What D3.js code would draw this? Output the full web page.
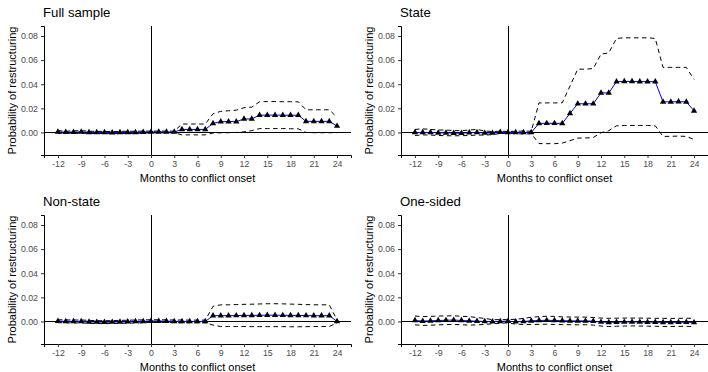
<!DOCTYPE html>
<html>
<head>
<meta charset="utf-8">
<script src="https://cdn.jsdelivr.net/npm/d3@7"></script>
<style>
  body { margin: 0; background: #fff; }
  svg { display: block; font-family: "Liberation Sans", Arial, sans-serif; }
</style>
</head>
<body>
<svg id="chart" width="708" height="372"></svg>
<script>
const months = [-12, -11, -10, -9, -8, -7, -6, -5, -4, -3, -2, -1, 0, 1, 2, 3, 4, 5, 6, 7, 8,
  9, 10, 11, 12, 13, 14, 15, 16, 17, 18, 19, 20, 21, 22, 23, 24];
const xTicks = [-12, -9, -6, -3, 0, 3, 6, 9, 12, 15, 18, 21, 24];
const yTicks = [0, 0.02, 0.04, 0.06, 0.08];
const panelTitles = ["Full sample", "State", "Non-state", "One-sided"];

const fullEst = [0.0004, 0.0002, 0.0003, 0.0004, 0.0001, 0.0, 0.0, -0.0001, 0.0, 0.0001, 0.0001, 0.0003,
  0.0004, 0.0004, 0.0004, 0.0004, 0.0025, 0.0025, 0.0025, 0.0025, 0.0075, 0.009, 0.009, 0.009,
  0.0112, 0.0112, 0.0143, 0.0144, 0.0144, 0.0143, 0.0143, 0.0143, 0.0092, 0.0092, 0.0092, 0.0092, 0.0053];
const fullHi = [0.0015, 0.001, 0.0013, 0.0015, 0.001, 0.0009, 0.0009, 0.0008, 0.0009, 0.001, 0.001, 0.0011,
  0.0011, 0.0011, 0.0011, 0.0011, 0.007, 0.007, 0.007, 0.007, 0.0155, 0.0175, 0.018, 0.0185,
  0.0205, 0.021, 0.0255, 0.0256, 0.0256, 0.0255, 0.0255, 0.0254, 0.0188, 0.0188, 0.0188, 0.0188, 0.0125];
const fullLo = [-0.0007, -0.0006, -0.0007, -0.0007, -0.0008, -0.0009, -0.0009, -0.001, -0.0009, -0.0008, -0.0008, -0.0005,
  -0.0003, -0.0003, -0.0003, -0.0003, -0.002, -0.002, -0.002, -0.002, -0.0005, -0.0003, -0.0002, 0.0,
  0.0005, 0.0015, 0.0032, 0.0032, 0.0032, 0.0032, 0.0031, 0.003, 0.0, -0.0002, -0.0002, -0.0002, -0.0002];

const stateEst = [0.0, 0.0, 0.0, -0.0003, -0.0003, -0.0006, -0.0006, -0.0002, 0.0, -0.0005, -0.0005, 0.0002,
  0.0, 0.0, 0.0, 0.0, 0.0075, 0.0076, 0.0076, 0.0075, 0.0158, 0.0238, 0.0238, 0.0238,
  0.0328, 0.0328, 0.0421, 0.0423, 0.0423, 0.0422, 0.0422, 0.0421, 0.0254, 0.0254, 0.0255, 0.0254, 0.0179];
const stateHi = [0.0025, 0.003, 0.0025, 0.002, 0.002, 0.0015, 0.0015, 0.002, 0.0025, 0.0012, 0.0008, 0.001,
  0.0008, 0.001, 0.0012, 0.001, 0.0245, 0.0245, 0.0245, 0.0246, 0.0385, 0.0525, 0.0525, 0.053,
  0.065, 0.066, 0.078, 0.0785, 0.0785, 0.0785, 0.0785, 0.078, 0.054, 0.054, 0.054, 0.054, 0.044];
const stateLo = [-0.0025, -0.002, -0.0022, -0.0025, -0.0027, -0.0028, -0.0027, -0.0025, -0.0022, -0.0022, -0.0018, -0.0008,
  -0.0008, -0.001, -0.0012, -0.001, -0.0092, -0.0093, -0.0093, -0.0088, -0.0068, -0.0047, -0.0046, -0.0042,
  -0.0002, 0.0015, 0.0055, 0.0058, 0.0058, 0.0058, 0.0058, 0.0055, -0.0033, -0.0032, -0.003, -0.0033, -0.0058];

const nonEst = [0.0002, 0.0001, 0.0, 0.0, -0.0003, -0.0005, -0.0006, -0.0005, -0.0003, -0.0002, 0.0, 0.0001,
  0.0003, 0.0003, 0.0002, 0.0001, 0.0, 0.0, 0.0, 0.0, 0.0048, 0.0048, 0.0048, 0.0049,
  0.005, 0.005, 0.0051, 0.0052, 0.0052, 0.0051, 0.005, 0.005, 0.0049, 0.0048, 0.0048, 0.0048, 0.0];
const nonHi = [0.0014, 0.0013, 0.0012, 0.0012, 0.0009, 0.0007, 0.0006, 0.0007, 0.0009, 0.001, 0.0012, 0.0013,
  0.0014, 0.0014, 0.0013, 0.0012, 0.0012, 0.0011, 0.0011, 0.0011, 0.0125, 0.0138, 0.0138, 0.014,
  0.0142, 0.0143, 0.0145, 0.0147, 0.0147, 0.0146, 0.0144, 0.0142, 0.014, 0.0138, 0.0138, 0.0138, 0.0012];
const nonLo = [-0.001, -0.0011, -0.0012, -0.0012, -0.0015, -0.0017, -0.0018, -0.0017, -0.0015, -0.0014, -0.0012, -0.0011,
  -0.0008, -0.0008, -0.0009, -0.001, -0.0011, -0.0011, -0.0011, -0.0011, -0.003, -0.0042, -0.0042, -0.0042,
  -0.0042, -0.0043, -0.0043, -0.0043, -0.0043, -0.0043, -0.0044, -0.0044, -0.0043, -0.0042, -0.0042, -0.0042, -0.0012];

const oneEst = [0.0008, 0.0003, 0.0005, 0.0008, 0.001, 0.0012, 0.0008, 0.0005, 0.0002, 0.0, -0.0002, 0.0,
  0.0002, -0.0002, 0.0, 0.0005, 0.0008, 0.001, 0.0008, 0.0006, 0.0005, 0.0004, 0.0005, 0.0002,
  -0.0005, -0.0008, -0.0006, -0.0005, -0.0004, -0.0005, -0.0006, -0.0006, -0.0008, -0.0008, -0.0007, -0.0006, -0.0009];
const oneHi = [0.0045, 0.004, 0.0042, 0.0045, 0.0046, 0.0047, 0.0043, 0.004, 0.0032, 0.0025, 0.0015, 0.0015,
  0.0015, 0.0018, 0.0025, 0.0035, 0.004, 0.0043, 0.0042, 0.0038, 0.0037, 0.0036, 0.0036, 0.0033,
  0.0028, 0.0026, 0.0027, 0.0028, 0.0028, 0.0028, 0.0027, 0.0026, 0.0026, 0.0025, 0.0026, 0.0027, 0.0025];
const oneLo = [-0.0028, -0.0033, -0.0031, -0.0028, -0.0026, -0.0024, -0.0027, -0.003, -0.0028, -0.0025, -0.0019, -0.0015,
  -0.0012, -0.0022, -0.0025, -0.0025, -0.0024, -0.0023, -0.0025, -0.0026, -0.0027, -0.0028, -0.0027, -0.003,
  -0.0038, -0.0042, -0.004, -0.0038, -0.0037, -0.0038, -0.0039, -0.004, -0.0042, -0.0042, -0.0041, -0.004, -0.0043];

const series = [
  { est: fullEst, hi: fullHi, lo: fullLo },
  { est: stateEst, hi: stateHi, lo: stateLo },
  { est: nonEst, hi: nonHi, lo: nonLo },
  { est: oneEst, hi: oneHi, lo: oneLo }
];

const svg = d3.select("#chart");
const plotW = 307, plotH = 129;
const origins = [[44, 26], [401, 26], [44, 215], [401, 215]];

const x = d3.scaleLinear().domain([-13.8, 25.8]).range([0, plotW]);
const y = d3.scaleLinear().domain([-0.0187, 0.0883]).range([plotH, 0]);
const crisp = (v) => Math.round(v) + 0.5;

series.forEach((s, k) => {
  const [ox, oy] = origins[k];
  const g = svg.append("g").attr("transform", `translate(${ox},${oy})`);
  const rows = months.map((m, i) => ({ m, est: s.est[i], hi: s.hi[i], lo: s.lo[i] }));

  // reference lines at zero
  g.append("line")
    .attr("x1", 0).attr("x2", plotW)
    .attr("y1", crisp(y(0))).attr("y2", crisp(y(0)))
    .attr("stroke", "#000").attr("stroke-width", 1);
  g.append("line")
    .attr("x1", crisp(x(0))).attr("x2", crisp(x(0)))
    .attr("y1", 0).attr("y2", plotH)
    .attr("stroke", "#000").attr("stroke-width", 1);

  const lineOf = (key) => d3.line().x((d) => x(d.m)).y((d) => y(d[key]));

  ["hi", "lo"].forEach((key) => {
    g.append("path")
      .datum(rows)
      .attr("fill", "none")
      .attr("stroke", "#000")
      .attr("stroke-width", 1)
      .attr("stroke-dasharray", "4.5,3.5")
      .attr("d", lineOf(key));
  });

  g.append("path")
    .datum(rows)
    .attr("fill", "none")
    .attr("stroke", "#0000ff")
    .attr("stroke-width", 1)
    .attr("d", lineOf("est"));

  g.append("g")
    .selectAll("path")
    .data(rows)
    .join("path")
    .attr("transform", (d) => `translate(${x(d.m)},${y(d.est)})`)
    .attr("d", d3.symbol(d3.symbolTriangle, 17))
    .attr("fill", "#000");

  // axes
  g.append("g")
    .attr("transform", `translate(0,${plotH})`)
    .call(d3.axisBottom(x).tickValues(xTicks).tickSize(3).tickPadding(3).tickFormat((d) => d))
    .call((a) => a.select(".domain").attr("stroke", "#000"))
    .call((a) => a.selectAll(".tick line").attr("stroke", "#333"))
    .call((a) => a.selectAll("text").attr("fill", "#4d4d4d").attr("font-size", 8.8)
      .style("font-family", "Liberation Sans, Arial, sans-serif"));

  g.append("g")
    .call(d3.axisLeft(y).tickValues(yTicks).tickSize(3).tickPadding(3).tickFormat(d3.format(".2f")))
    .call((a) => a.select(".domain").attr("stroke", "#000"))
    .call((a) => a.selectAll(".tick line").attr("stroke", "#333"))
    .call((a) => a.selectAll("text").attr("fill", "#4d4d4d").attr("font-size", 8.8)
      .style("font-family", "Liberation Sans, Arial, sans-serif"));

  g.append("text")
    .attr("x", -1).attr("y", -9)
    .attr("font-size", 13.2)
    .attr("fill", "#000")
    .text(panelTitles[k]);

  g.append("text")
    .attr("x", plotW / 2).attr("y", plotH + 27)
    .attr("text-anchor", "middle")
    .attr("font-size", 11)
    .attr("fill", "#000")
    .text("Months to conflict onset");

  g.append("text")
    .attr("transform", `translate(-28,${plotH / 2}) rotate(-90)`)
    .attr("text-anchor", "middle")
    .attr("font-size", 11)
    .attr("fill", "#000")
    .text("Probability of restructuring");
});
</script>
</body>
</html>
